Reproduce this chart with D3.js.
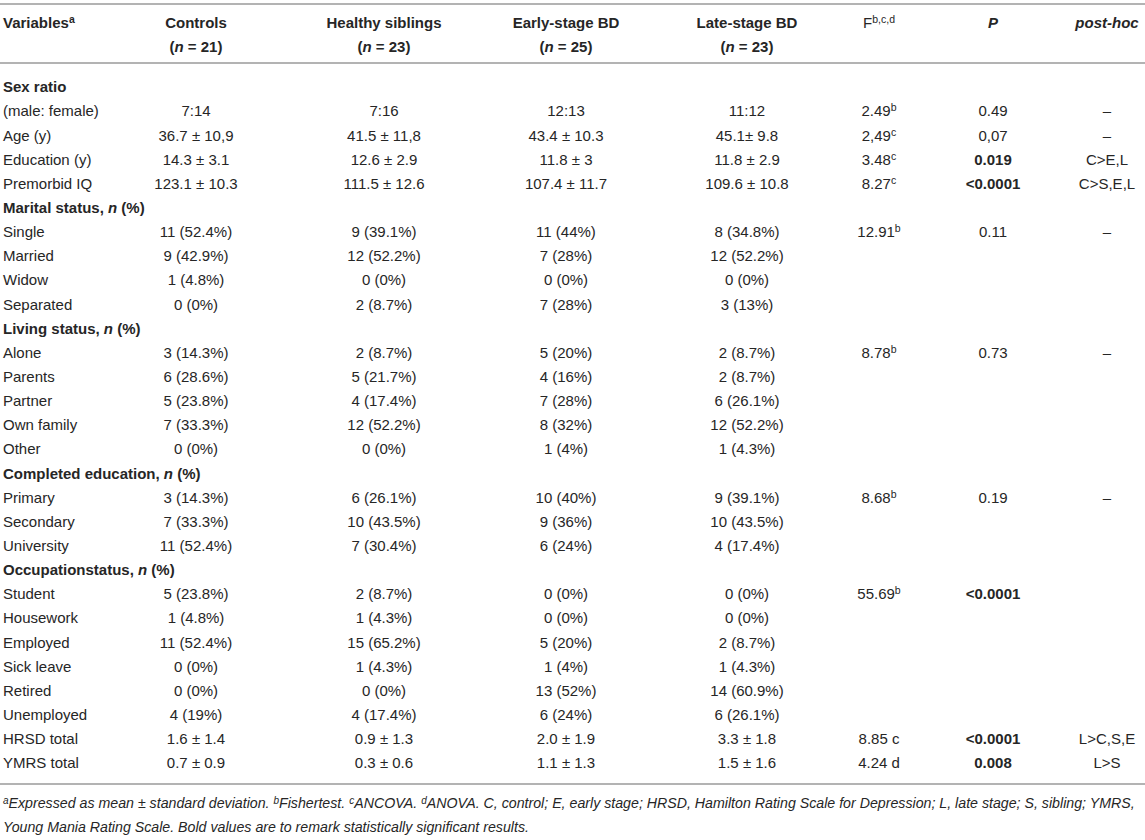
<!DOCTYPE html>
<html>
<head>
<meta charset="utf-8">
<script src="https://cdn.jsdelivr.net/npm/d3@7"></script>
<style>
  body { margin: 0; background: #fff; }
  svg text { font-family: "Liberation Sans", Arial, Helvetica, sans-serif; fill: #262626; }
</style>
</head>
<body>
<div id="chart"></div>
<script>
// table content, one array per column
const labels = ['Sex ratio', '(male: female)', 'Age (y)', 'Education (y)', 'Premorbid IQ',
  'Marital status', 'Single', 'Married', 'Widow', 'Separated',
  'Living status', 'Alone', 'Parents', 'Partner', 'Own family', 'Other',
  'Completed education', 'Primary', 'Secondary', 'University',
  'Occupationstatus', 'Student', 'Housework', 'Employed', 'Sick leave', 'Retired', 'Unemployed',
  'HRSD total', 'YMRS total'];
const sectionRows = ['Sex ratio', 'Marital status', 'Living status', 'Completed education', 'Occupationstatus'];
const sectionSuffix = ['', ', n (%)', ', n (%)', ', n (%)', ', n (%)'];

const controls = ['', '7:14', '36.7 ± 10,9', '14.3 ± 3.1', '123.1 ± 10.3',
  '', '11 (52.4%)', '9 (42.9%)', '1 (4.8%)', '0 (0%)',
  '', '3 (14.3%)', '6 (28.6%)', '5 (23.8%)', '7 (33.3%)', '0 (0%)',
  '', '3 (14.3%)', '7 (33.3%)', '11 (52.4%)',
  '', '5 (23.8%)', '1 (4.8%)', '11 (52.4%)', '0 (0%)', '0 (0%)', '4 (19%)',
  '1.6 ± 1.4', '0.7 ± 0.9'];
const siblings = ['', '7:16', '41.5 ± 11,8', '12.6 ± 2.9', '111.5 ± 12.6',
  '', '9 (39.1%)', '12 (52.2%)', '0 (0%)', '2 (8.7%)',
  '', '2 (8.7%)', '5 (21.7%)', '4 (17.4%)', '12 (52.2%)', '0 (0%)',
  '', '6 (26.1%)', '10 (43.5%)', '7 (30.4%)',
  '', '2 (8.7%)', '1 (4.3%)', '15 (65.2%)', '1 (4.3%)', '0 (0%)', '4 (17.4%)',
  '0.9 ± 1.3', '0.3 ± 0.6'];
const earlyBD = ['', '12:13', '43.4 ± 10.3', '11.8 ± 3', '107.4 ± 11.7',
  '', '11 (44%)', '7 (28%)', '0 (0%)', '7 (28%)',
  '', '5 (20%)', '4 (16%)', '7 (28%)', '8 (32%)', '1 (4%)',
  '', '10 (40%)', '9 (36%)', '6 (24%)',
  '', '0 (0%)', '0 (0%)', '5 (20%)', '1 (4%)', '13 (52%)', '6 (24%)',
  '2.0 ± 1.9', '1.1 ± 1.3'];
const lateBD = ['', '11:12', '45.1± 9.8', '11.8 ± 2.9', '109.6 ± 10.8',
  '', '8 (34.8%)', '12 (52.2%)', '0 (0%)', '3 (13%)',
  '', '2 (8.7%)', '2 (8.7%)', '6 (26.1%)', '12 (52.2%)', '1 (4.3%)',
  '', '9 (39.1%)', '10 (43.5%)', '4 (17.4%)',
  '', '0 (0%)', '0 (0%)', '2 (8.7%)', '1 (4.3%)', '14 (60.9%)', '6 (26.1%)',
  '3.3 ± 1.8', '1.5 ± 1.6'];
const fValues = ['', '2.49', '2,49', '3.48', '8.27',
  '', '12.91', '', '', '',
  '', '8.78', '', '', '', '',
  '', '8.68', '', '',
  '', '55.69', '', '', '', '', '',
  '8.85 c', '4.24 d'];
const fSup = ['', 'b', 'c', 'c', 'c',
  '', 'b', '', '', '',
  '', 'b', '', '', '', '',
  '', 'b', '', '',
  '', 'b', '', '', '', '', '',
  '', ''];
const pValues = ['', '0.49', '0,07', '0.019', '<0.0001',
  '', '0.11', '', '', '',
  '', '0.73', '', '', '', '',
  '', '0.19', '', '',
  '', '<0.0001', '', '', '', '', '',
  '<0.0001', '0.008'];
const pBold = ['0.019', '<0.0001', '0.008'];
const postHoc = ['', '–', '–', 'C>E,L', 'C>S,E,L',
  '', '–', '', '', '',
  '', '–', '', '', '', '',
  '', '–', '', '',
  '', '', '', '', '', '', '',
  'L>C,S,E', 'L>S'];

const groupNames = ['Controls', 'Healthy siblings', 'Early-stage BD', 'Late-stage BD'];
const groupN = [21, 23, 25, 23];

const footLines = [
  [['a', 'Expressed as mean ± standard deviation. '], ['b', 'Fishertest. '], ['c', 'ANCOVA. '],
   ['d', 'ANOVA. C, control; E, early stage; HRSD, Hamilton Rating Scale for Depression; L, late stage; S, sibling; YMRS,']],
  [['', 'Young Mania Rating Scale. Bold values are to remark statistically significant results.']]
];

const W = 1145, H = 840;
const svg = d3.select('#chart').append('svg').attr('width', W).attr('height', H);

const cols = ['controls', 'siblings', 'early', 'late', 'f', 'p', 'post'];
const x = d3.scaleOrdinal().domain(cols).range([196, 384, 566, 747, 879, 993, 1107]);
const y = d3.scaleLinear().domain([0, labels.length - 1]).range([87, 763]);
const colData = { controls, siblings, early: earlyBD, late: lateBD };

// rules
const rules = [4, 63, 784];
svg.selectAll('line.rule').data(rules).join('line')
  .attr('class', 'rule')
  .attr('x1', 0).attr('x2', W)
  .attr('y1', d => d).attr('y2', d => d)
  .attr('stroke', '#b3b3b3').attr('stroke-width', 2);

// header
const hy1 = 23, hy2 = 47, fs = 15;
const v = svg.append('text').attr('x', 3).attr('y', hy1).attr('dy', '0.35em')
  .attr('font-size', fs).attr('font-weight', 'bold');
v.append('tspan').text('Variables');
v.append('tspan').text('a').attr('font-size', 10.5).attr('dy', -5);

groupNames.forEach((g, i) => {
  const cx = x(cols[i]);
  svg.append('text').attr('x', cx).attr('y', hy1).attr('dy', '0.35em')
    .attr('text-anchor', 'middle').attr('font-size', fs).attr('font-weight', 'bold').text(g);
  const t = svg.append('text').attr('x', cx).attr('y', hy2).attr('dy', '0.35em')
    .attr('text-anchor', 'middle').attr('font-size', fs).attr('font-weight', 'bold');
  t.append('tspan').text('(');
  t.append('tspan').attr('font-style', 'italic').text('n');
  t.append('tspan').text(' = ' + groupN[i] + ')');
});
const fh = svg.append('text').attr('x', x('f')).attr('y', hy1).attr('dy', '0.35em')
  .attr('text-anchor', 'middle').attr('font-size', fs);
fh.append('tspan').text('F');
fh.append('tspan').text('b,c,d').attr('font-size', 10.5).attr('dy', -5);
svg.append('text').attr('x', x('p')).attr('y', hy1).attr('dy', '0.35em')
  .attr('text-anchor', 'middle').attr('font-size', fs).attr('font-weight', 'bold')
  .attr('font-style', 'italic').text('P');
svg.append('text').attr('x', x('post')).attr('y', hy1).attr('dy', '0.35em')
  .attr('text-anchor', 'middle').attr('font-size', fs).attr('font-weight', 'bold')
  .attr('font-style', 'italic').text('post-hoc');

// row labels
const lab = svg.selectAll('text.lab').data(labels).join('text')
  .attr('class', 'lab')
  .attr('x', 3).attr('y', (d, i) => y(i)).attr('dy', '0.35em')
  .attr('font-size', fs)
  .attr('font-weight', d => sectionRows.includes(d) ? 'bold' : 'normal');
lab.each(function(d) {
  const t = d3.select(this);
  const k = sectionRows.indexOf(d);
  if (k < 0 || !sectionSuffix[k]) { t.text(d); return; }
  t.append('tspan').text(d + ', ');
  t.append('tspan').attr('font-style', 'italic').text('n');
  t.append('tspan').text(' (%)');
});

// group columns
['controls', 'siblings', 'early', 'late'].forEach(c => {
  svg.selectAll('text.c-' + c).data(colData[c]).join('text')
    .attr('class', 'c-' + c)
    .attr('x', x(c)).attr('y', (d, i) => y(i)).attr('dy', '0.35em')
    .attr('text-anchor', 'middle').attr('font-size', fs)
    .text(d => d);
});

// F column with superscripts
svg.selectAll('text.fcol').data(fValues).join('text')
  .attr('class', 'fcol')
  .attr('x', x('f')).attr('y', (d, i) => y(i)).attr('dy', '0.35em')
  .attr('text-anchor', 'middle').attr('font-size', fs)
  .each(function(d, i) {
    const t = d3.select(this);
    t.append('tspan').text(d);
    if (fSup[i]) t.append('tspan').text(fSup[i]).attr('font-size', 10.5).attr('dy', -5);
  });

// P column
svg.selectAll('text.pcol').data(pValues).join('text')
  .attr('class', 'pcol')
  .attr('x', x('p')).attr('y', (d, i) => y(i)).attr('dy', '0.35em')
  .attr('text-anchor', 'middle').attr('font-size', fs)
  .attr('font-weight', d => pBold.includes(d) ? 'bold' : 'normal')
  .text(d => d);

// post-hoc column
svg.selectAll('text.post').data(postHoc).join('text')
  .attr('class', 'post')
  .attr('x', x('post')).attr('y', (d, i) => y(i)).attr('dy', '0.35em')
  .attr('text-anchor', 'middle').attr('font-size', fs)
  .text(d => d);

// footnote
const footY = [808, 832];
footLines.forEach((parts, li) => {
  const t = svg.append('text').attr('x', 3).attr('y', footY[li]).attr('dy', '0.35em')
    .attr('font-size', 14.2).attr('font-style', 'italic');
  parts.forEach(p => {
    if (p[0]) t.append('tspan').text(p[0]).attr('font-size', 10).attr('dy', -4);
    t.append('tspan').text(p[1]).attr('dy', p[0] ? 4 : 0);
  });
});
</script>
</body>
</html>
